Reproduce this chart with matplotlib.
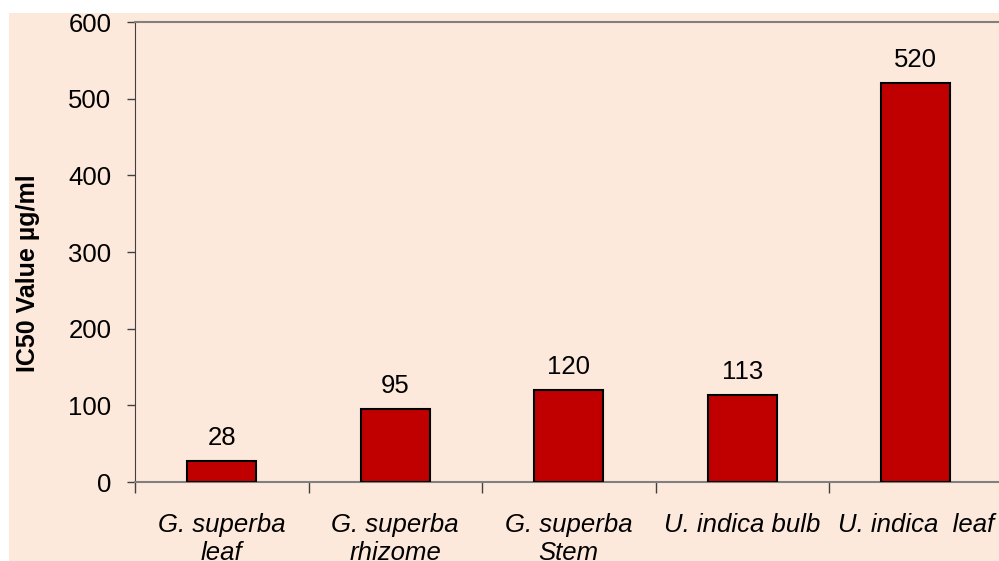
import matplotlib.pyplot as plt
from matplotlib.patches import Rectangle

plt.rcParams['font.family'] = ['Liberation Sans', 'DejaVu Sans']

# data
samples = ['G. superba\nleaf', 'G. superba\nrhizome', 'G. superba\nStem',
           'U. indica bulb', 'U. indica  leaf']
ic50 = [28, 95, 120, 113, 520]

fig = plt.figure(figsize=(9.99, 5.61), dpi=100)
fig.patch.set_facecolor('white')

# peach chart area background
fig.patches.append(Rectangle((9 / 999, 0), 1, (561 - 13) / 561, transform=fig.transFigure,
                             facecolor='#FDE9DB', edgecolor='none', zorder=-10))

ax = fig.add_axes([135 / 999, 79 / 561, 867.5 / 999, 460 / 561])
ax.set_facecolor('none')
ax.set_zorder(5)

x = range(len(samples))
bars = ax.bar(x, ic50, width=0.4, color='#C00000', edgecolor='black', linewidth=1.5, zorder=3)

for xi, v in zip(x, ic50):
    ax.annotate(str(v), (xi, v), xytext=(0, 11.5), textcoords='offset points',
                ha='center', va='baseline', fontsize=18.5)

ax.set_xlim(-0.5, len(samples) - 0.5)
ax.set_ylim(0, 600)
ax.set_yticks(range(0, 601, 100))
ax.tick_params(axis='y', labelsize=18.5, length=6, width=1, color='#404040', direction='out', pad=11)

# category boundary ticks, labels centred under bars
ax.set_xticks([i - 0.5 for i in range(len(samples))])
ax.set_xticklabels([])
ax.set_xticks(list(x), minor=True)
ax.set_xticklabels(samples, minor=True, fontsize=18.5, style='italic', linespacing=1.25)
ax.tick_params(axis='x', which='major', length=8, width=1, color='#404040', direction='out')
ax.tick_params(axis='x', which='minor', length=0, pad=22)

for side in ['top', 'right']:
    ax.spines[side].set_color('#808080')
    ax.spines[side].set_linewidth(1.5)
ax.spines['left'].set_color('#404040')
ax.spines['bottom'].set_color('#808080')
ax.spines['bottom'].set_linewidth(1.5)

ax.set_ylabel('IC50 Value µg/ml', fontsize=18, fontweight='bold', labelpad=20, y=0.454)

plt.savefig('out.png', dpi=100)
